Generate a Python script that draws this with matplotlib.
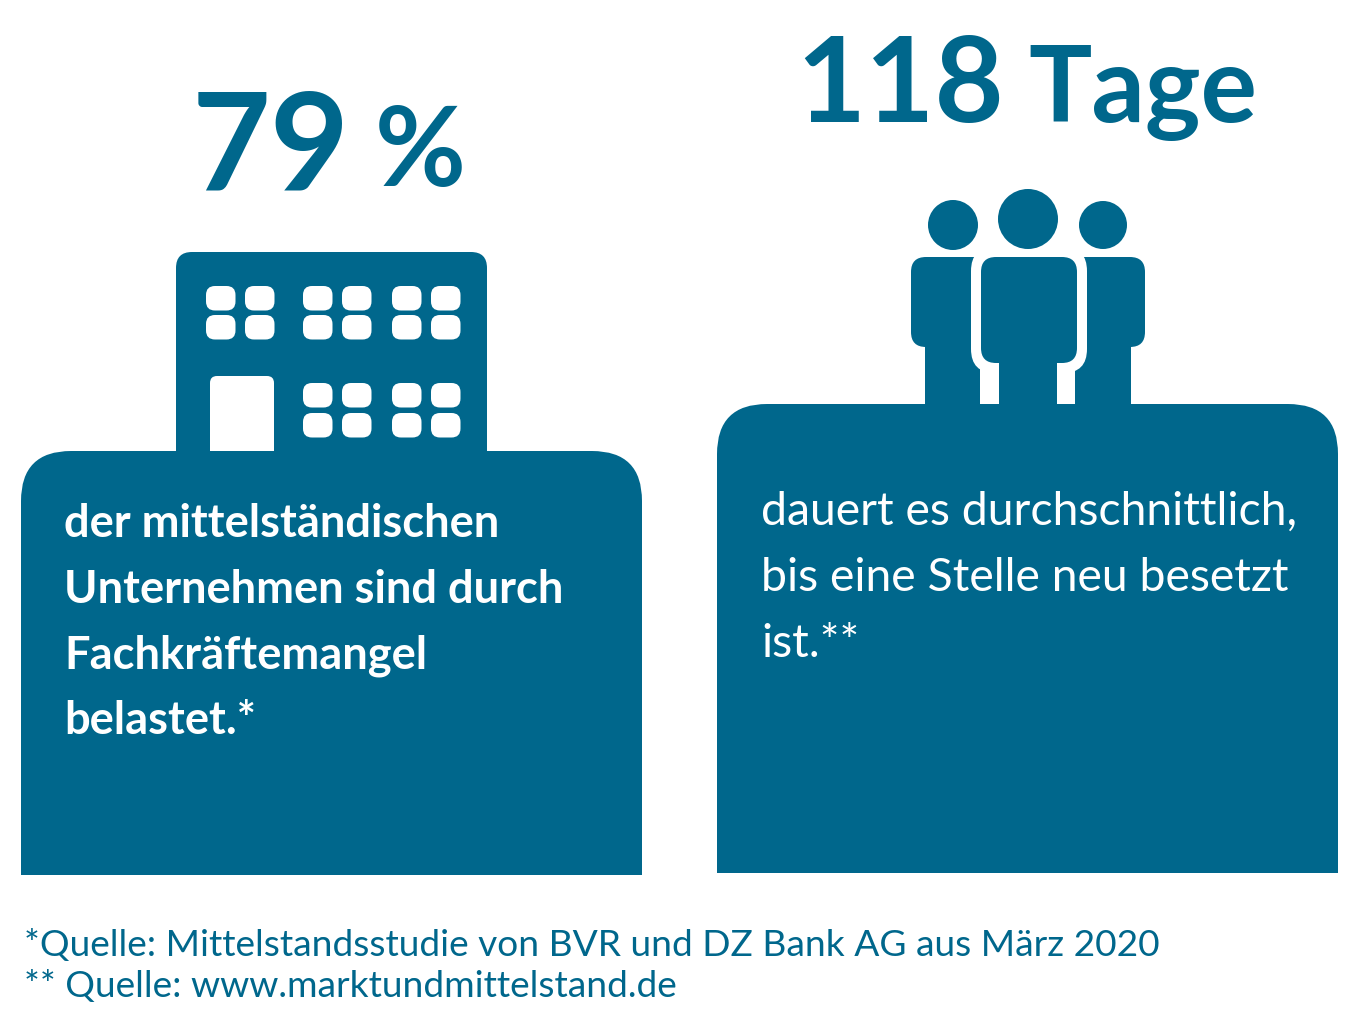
import matplotlib
matplotlib.use('Agg')
import matplotlib.pyplot as plt
from matplotlib.patches import Rectangle, FancyBboxPatch, Circle

plt.rcParams['font.family'] = ['Lato', 'DejaVu Sans']

BLUE = '#00678c'

# texts
left_number = '79'
left_unit = '%'
right_number = '118'
right_unit = 'Tage'
left_lines = ['der mittelständischen', 'Unternehmen sind durch', 'Fachkräftemangel', 'belastet.*']
right_lines = ['dauert es durchschnittlich,', 'bis eine Stelle neu besetzt', 'ist.**']
source_lines = ['*Quelle: Mittelstandsstudie von BVR und DZ Bank AG aus März 2020',
                '** Quelle: www.marktundmittelstand.de']

# window positions of the building icon, pixels
window_cols = [206, 245, 303, 342, 392, 431]
window_rows_top = [286, 315]
window_rows_bottom = [383, 413]


def rounded(ax, x0, y0, x1, y1, r, color=BLUE, zorder=2):
    box = FancyBboxPatch((x0 + r, y0 + r), x1 - x0 - 2 * r, y1 - y0 - 2 * r,
                         boxstyle='round,pad=%s,rounding_size=%s' % (r, r),
                         fc=color, ec='none', zorder=zorder)
    ax.add_patch(box)


def panel(ax, x0, y0, x1, y1, r=50):
    # only the top corners are round
    rounded(ax, x0, y0, x1, y0 + 2 * r + 20, r)
    ax.add_patch(Rectangle((x0, y0 + r), x1 - x0, y1 - y0 - r, fc=BLUE, ec='none', zorder=2))


fig = plt.figure(figsize=(13.59, 10.32), dpi=100)
ax = fig.add_axes([0, 0, 1, 1])
ax.set_xlim(0, 1359)
ax.set_ylim(1032, 0)
ax.axis('off')

# building
rounded(ax, 176, 252, 487, 480, 16)
for x in window_cols:
    for y in window_rows_top:
        rounded(ax, x, y, x + 29.5, y + 24.5, 9, 'white', 3)
for x in window_cols[2:]:
    for y in window_rows_bottom:
        rounded(ax, x, y, x + 29.5, y + 24.5, 9, 'white', 3)
rounded(ax, 210, 376, 274, 470, 7, 'white', 3)
panel(ax, 21, 451, 642, 875)
ax.add_patch(Rectangle((176, 451), 311, 30, fc=BLUE, ec='none', zorder=4))

# people
for cx, cy, r in [(953, 225, 25), (1028, 219, 30), (1103, 225, 24)]:
    ax.add_patch(Circle((cx, cy), r, fc=BLUE, ec='none', zorder=5))
rounded(ax, 911, 257, 1000, 347, 15)
rounded(ax, 1060, 257, 1145, 347, 15)
ax.add_patch(Rectangle((925, 330), 55, 80, fc=BLUE, ec='none', zorder=2))
ax.add_patch(Rectangle((1075, 330), 56, 80, fc=BLUE, ec='none', zorder=2))
rounded(ax, 971, 247, 1087, 373, 24, 'white', 3)
rounded(ax, 981, 257, 1077, 363, 15, BLUE, 4)
ax.add_patch(Rectangle((999, 350), 58, 60, fc=BLUE, ec='none', zorder=4))
panel(ax, 717, 404, 1338, 873)

# headlines
ax.text(192, 190, left_number, color=BLUE, fontsize=98, fontweight='bold', va='baseline')
ax.text(375, 186, left_unit, color=BLUE, fontsize=80, fontweight='bold', va='baseline')
ax.text(796, 122, right_number, color=BLUE, fontsize=86, fontweight='bold', va='baseline')
ax.text(1028, 122, right_unit, color=BLUE, fontsize=76, fontweight='bold', va='baseline')

# panel texts
for i, line in enumerate(left_lines):
    ax.text(64, 537 + i * 65.7, line, color='white', fontsize=32.6, fontweight='bold', va='baseline', zorder=5)
for i, line in enumerate(right_lines):
    ax.text(761, 525 + i * 66, line, color='white', fontsize=33.4, va='baseline', zorder=5)

# sources
for i, line in enumerate(source_lines):
    ax.text(24, 956 + i * 41, line, color=BLUE, fontsize=26.7, va='baseline')

fig.savefig('out.png', dpi=100)
